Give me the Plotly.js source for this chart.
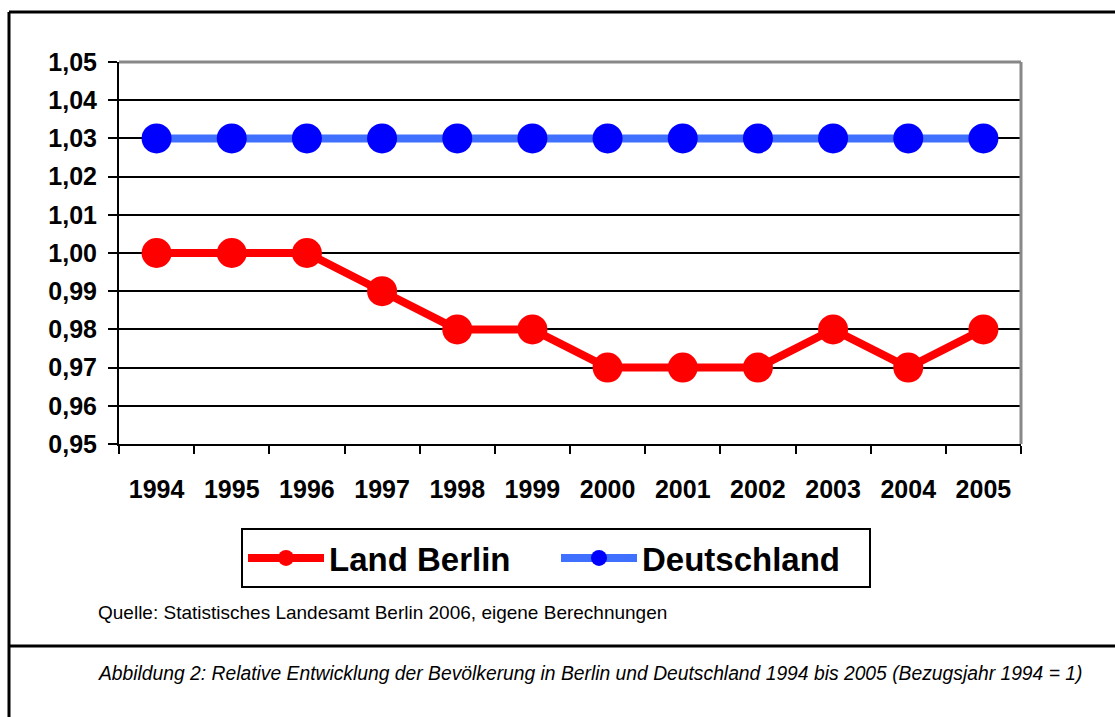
<!DOCTYPE html>
<html>
<head>
<meta charset="utf-8">
<script src="https://cdn.plot.ly/plotly-3.0.1.min.js"></script>
<style>
  body { margin: 0; padding: 0; background: #fff; }
  #chart { width: 1115px; height: 717px; }
</style>
</head>
<body>
<div id="chart"></div>
<script>
// data
let years = ['1994', '1995', '1996', '1997', '1998', '1999', '2000', '2001', '2002', '2003', '2004', '2005'];
let berlin = [1.00, 1.00, 1.00, 0.99, 0.98, 0.98, 0.97, 0.97, 0.97, 0.98, 0.97, 0.98];
let deutschland = [1.03, 1.03, 1.03, 1.03, 1.03, 1.03, 1.03, 1.03, 1.03, 1.03, 1.03, 1.03];
let yTicks = [0.95, 0.96, 0.97, 0.98, 0.99, 1.00, 1.01, 1.02, 1.03, 1.04, 1.05];

let sourceText = 'Quelle: Statistisches Landesamt Berlin 2006, eigene Berechnungen';
let captionText = 'Abbildung 2: Relative Entwicklung der Bevölkerung in Berlin und Deutschland 1994 bis 2005 (Bezugsjahr 1994 = 1)';

// plot area in pixels: x 119..1021, y 62..444
let L = 119, R = 1021, T = 62, B = 444;
function px(x) { return (x - L) / (R - L); }
function py(y) { return (B - y) / (B - T); }

var data = [{
    x: years,
    y: berlin,
    name: 'Land Berlin',
    type: 'scatter',
    mode: 'lines+markers',
    line: { color: '#ff0000', width: 8 },
    marker: { color: '#ff0000', size: 30 }
}, {
    x: years,
    y: deutschland,
    name: 'Deutschland',
    type: 'scatter',
    mode: 'lines+markers',
    line: { color: '#4070ff', width: 8 },
    marker: { color: '#0000ff', size: 30 }
}];

var layout = {
    width: 1115,
    height: 717,
    margin: { l: L, r: 1115 - R, t: T, b: 717 - B },
    paper_bgcolor: '#fff',
    plot_bgcolor: '#fff',
    separators: ',.',
    font: { family: 'Liberation Sans, Arial, sans-serif', color: '#000' },
    showlegend: true,
    legend: {
        orientation: 'h',
        x: px(556), xanchor: 'center',
        y: py(528), yanchor: 'top',
        bordercolor: '#000',
        borderwidth: 2,
        itemwidth: 76,
        entrywidth: 222,
        entrywidthmode: 'pixels',
        font: { size: 33, family: 'Liberation Sans, Arial, sans-serif', weight: 'bold' }
    },
    xaxis: {
        type: 'category',
        range: [-0.5, 11.5],
        showgrid: false,
        showline: true,
        linecolor: '#000',
        linewidth: 2,
        ticks: 'outside',
        tickson: 'boundaries',
        ticklen: 8,
        tickwidth: 2,
        tickcolor: '#000',
        ticklabelstandoff: 22,
        tickfont: { size: 25, weight: 'bold' },
        fixedrange: true
    },
    yaxis: {
        range: [0.95, 1.05],
        tickvals: yTicks,
        tickformat: '.2f',
        showgrid: true,
        gridcolor: '#000',
        gridwidth: 2,
        zeroline: false,
        showline: true,
        linecolor: '#000',
        linewidth: 2,
        ticks: 'outside',
        ticklen: 9,
        tickwidth: 2,
        tickcolor: '#000',
        ticklabelstandoff: 6,
        tickfont: { size: 25, weight: 'bold' },
        fixedrange: true
    },
    shapes: [
        // grey frame on top and right of plot area
        { type: 'line', xref: 'paper', yref: 'paper', x0: 0, x1: 1, y0: 1, y1: 1, line: { color: '#888', width: 3 }, layer: 'above' },
        { type: 'line', xref: 'paper', yref: 'paper', x0: 1, x1: 1, y0: 0, y1: 1, line: { color: '#888', width: 3 }, layer: 'above' },
        // outer figure box
        { type: 'line', xref: 'paper', yref: 'paper', x0: px(9), x1: px(1120), y0: py(12), y1: py(12), line: { color: '#000', width: 3 } },
        { type: 'line', xref: 'paper', yref: 'paper', x0: px(9), x1: px(9), y0: py(12), y1: py(720), line: { color: '#000', width: 3 } },
        { type: 'line', xref: 'paper', yref: 'paper', x0: px(9), x1: px(1120), y0: py(646), y1: py(646), line: { color: '#000', width: 3 } }
    ],
    annotations: [
        { text: sourceText, xref: 'paper', yref: 'paper', x: px(96), y: py(612), xanchor: 'left', yanchor: 'middle', showarrow: false, font: { size: 19 } },
        { text: '<i>' + captionText + '</i>', xref: 'paper', yref: 'paper', x: px(96), y: py(673), xanchor: 'left', yanchor: 'middle', showarrow: false, font: { size: 19.3 } }
    ]
};

Plotly.newPlot('chart', data, layout, { displayModeBar: false, staticPlot: true });
</script>
</body>
</html>
